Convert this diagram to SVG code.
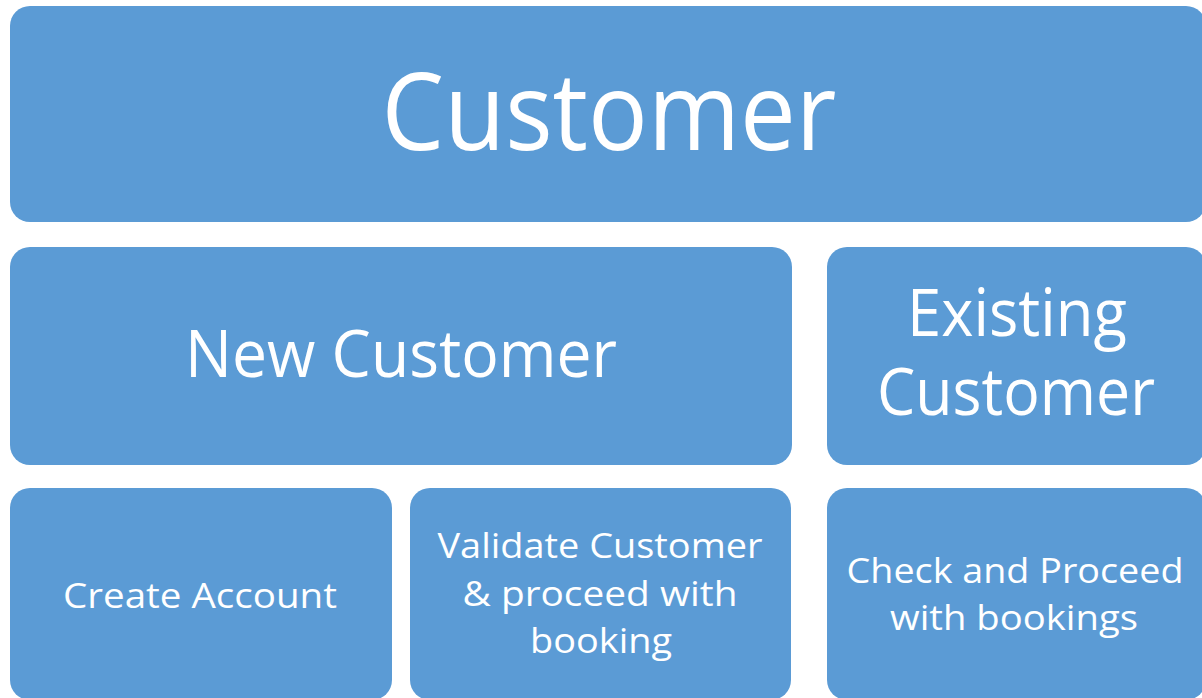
<svg xmlns="http://www.w3.org/2000/svg" width="1202" height="698" viewBox="0 0 1202 698">
  <style>
    .box { fill: #5B9BD5; }
    .lbl { fill: #FFFFFF; font-family: "Open Sans", "Liberation Sans", sans-serif; text-anchor: middle; }
    .xl { font-size: 108px; }
    .lg { font-size: 66px; }
    .sm { font-size: 35px; }
  </style>
  <rect width="1202" height="698" fill="#FFFFFF"/>

  <g id="customer">
    <rect class="box" x="10" y="6" width="1196" height="216" rx="20" ry="20"/>
    <text class="lbl xl" x="609" y="150" textLength="455" lengthAdjust="spacingAndGlyphs">Customer</text>
  </g>

  <g id="new-customer">
    <rect class="box" x="10" y="247" width="782" height="218" rx="20" ry="20"/>
    <text class="lbl lg" x="401" y="377" textLength="432" lengthAdjust="spacingAndGlyphs">New Customer</text>
  </g>

  <g id="existing-customer">
    <rect class="box" x="827" y="247" width="379" height="218" rx="20" ry="20"/>
    <text class="lbl lg" x="1017" y="336" textLength="220" lengthAdjust="spacingAndGlyphs">Existing</text>
    <text class="lbl lg" x="1016" y="415" textLength="278" lengthAdjust="spacingAndGlyphs">Customer</text>
  </g>

  <g id="create-account">
    <rect class="box" x="10" y="488" width="382" height="212" rx="20" ry="20"/>
    <text class="lbl sm" x="200" y="608" textLength="274" lengthAdjust="spacingAndGlyphs">Create Account</text>
  </g>

  <g id="validate-customer">
    <rect class="box" x="410" y="488" width="381" height="212" rx="20" ry="20"/>
    <text class="lbl sm" x="600" y="558" textLength="325" lengthAdjust="spacingAndGlyphs">Validate Customer</text>
    <text class="lbl sm" x="600" y="606" textLength="275" lengthAdjust="spacingAndGlyphs">&amp; proceed with</text>
    <text class="lbl sm" x="601" y="653" textLength="142" lengthAdjust="spacingAndGlyphs">booking</text>
  </g>

  <g id="check-proceed">
    <rect class="box" x="827" y="488" width="379" height="212" rx="20" ry="20"/>
    <text class="lbl sm" x="1015" y="583" textLength="337" lengthAdjust="spacingAndGlyphs">Check and Proceed</text>
    <text class="lbl sm" x="1014" y="630" textLength="248" lengthAdjust="spacingAndGlyphs">with bookings</text>
  </g>

  <!-- the layout is a block diagram with no connecting lines -->
  <g id="connectors"/>
</svg>
